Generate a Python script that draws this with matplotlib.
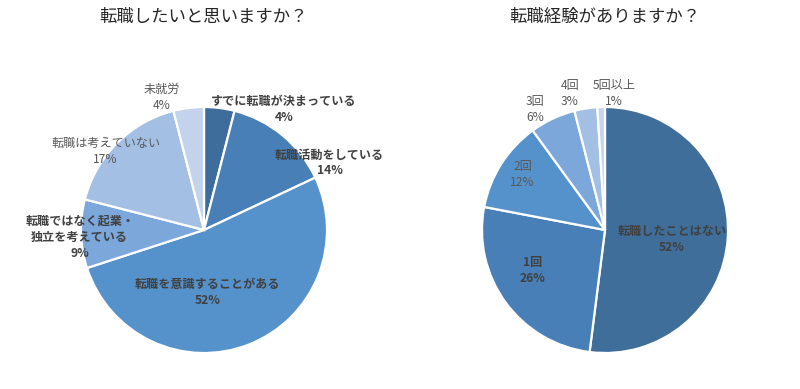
import matplotlib
matplotlib.use('Agg')
import matplotlib.pyplot as plt

plt.rcParams['font.family'] = ['Noto Sans CJK JP', 'DejaVu Sans']

# left pie: 転職したいと思いますか？
left_labels = ['すでに転職が決まっている', '転職活動をしている', '転職を意識することがある',
               '転職ではなく起業・\n独立を考えている', '転職は考えていない', '未就労']
left_values = [4, 14, 52, 9, 17, 4]
left_colors = ['#3e6d9b', '#487fb6', '#5592cb', '#7ba7da', '#a3bfe4', '#c3d3ec']
left_bold = [True, True, True, True, False, False]
# label centres in units of the pie radius
left_pos = [(0.65, 0.98), (1.02, 0.545), (0.03, -0.51), (-1.01, -0.06), (-0.80, 0.64), (-0.34, 1.08)]

# right pie: 転職経験がありますか？
right_labels = ['転職したことはない', '1回', '2回', '3回', '4回', '5回以上']
right_values = [52, 26, 12, 6, 3, 1]
right_colors = ['#3f6e9b', '#487fb6', '#5592cb', '#7ba7da', '#a3bfe4', '#c6d6ee']
right_bold = [True, True, False, False, False, False]
right_pos = [(0.545, -0.08), (-0.59, -0.33), (-0.67, 0.455), (-0.57, 0.976), (-0.285, 1.106), (0.073, 1.106)]

R_PX = 123.0
W, H = 800, 389


def draw(ax, values, labels, colors, bold, pos, title, cx, cy, x0):
    ax.pie(values, colors=colors, startangle=90, counterclock=False,
           wedgeprops=dict(edgecolor='white', linewidth=1.6))
    # map pixels to data units (1 unit = radius)
    ax.set_xlim(-(cx - x0) / R_PX, (x0 + 400 - cx) / R_PX)
    ax.set_ylim(-(H - cy) / R_PX, cy / R_PX)
    ax.set_aspect('auto')
    for lab, v, b, (x, y) in zip(labels, values, bold, pos):
        ax.text(x, y, f'{lab}\n{v}%', ha='center', va='center',
                fontsize=8.7, linespacing=1.3,
                fontweight='bold' if b else 'normal',
                color='#404040' if b else '#595959')
    ax.text(0, (cy - 17) / R_PX, title, ha='center', va='center',
            fontsize=12.5, color='#262626')


fig = plt.figure(figsize=(W / 100, H / 100), dpi=100)
ax1 = fig.add_axes([0, 0, 0.5, 1])
ax2 = fig.add_axes([0.5, 0, 0.5, 1])

draw(ax1, left_values, left_labels, left_colors, left_bold, left_pos,
     '転職したいと思いますか？', 204, 230, 0)
draw(ax2, right_values, right_labels, right_colors, right_bold, right_pos,
     '転職経験がありますか？', 605, 230, 400)

fig.savefig('out.png', dpi=100, facecolor='white')
